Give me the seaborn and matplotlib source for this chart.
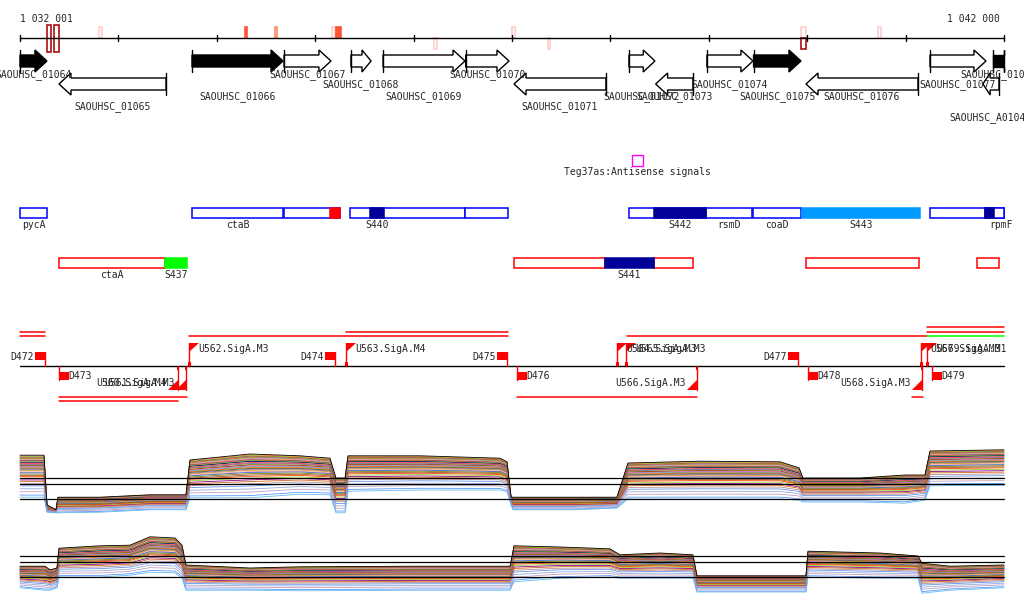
import numpy as np
import pandas as pd
import matplotlib
matplotlib.use("Agg")
import matplotlib.pyplot as plt
from matplotlib.patches import Polygon, Rectangle
import seaborn as sns

# region shown (bp)
view_start = 1032001
view_end = 1042000

# genes
gene_names = ["SAOUHSC_01064", "SAOUHSC_01065", "SAOUHSC_01066", "SAOUHSC_01067",
              "SAOUHSC_01068", "SAOUHSC_01069", "SAOUHSC_01070", "SAOUHSC_01071",
              "SAOUHSC_01072", "SAOUHSC_01073", "SAOUHSC_01074", "SAOUHSC_01075",
              "SAOUHSC_01076", "SAOUHSC_01077", "SAOUHSC_A01041", "SAOUHSC_01078"]
gene_start = [1032001, 1032397, 1033749, 1034684, 1035364, 1035690, 1036530, 1037021,
              1038189, 1038460, 1038981, 1039455, 1039988, 1041248, 1041786, 1041888]
gene_end = [1032275, 1033485, 1034674, 1035161, 1035568, 1036523, 1036970, 1037955,
            1038453, 1038839, 1039449, 1039937, 1041126, 1041817, 1041949, 1042300]
gene_strand = ["+", "-", "+", "+", "+", "+", "+", "-", "+", "-", "+", "+", "-", "+", "-", "+"]
gene_essential = [1, 0, 1, 0, 0, 0, 0, 0, 0, 0, 0, 1, 0, 0, 0, 1]

# small marks on the ruler
mark_start = [1032275, 1032346, 1032804, 1034287, 1034592, 1035171, 1035212, 1036208,
              1037001, 1037366, 1039937, 1039937, 1040720]
mark_end = [1032316, 1032397, 1032834, 1034308, 1034613, 1035202, 1035263, 1036238,
            1037031, 1037387, 1039988, 1039988, 1040750]
mark_side = ["both", "both", "up", "up", "up", "up", "up", "down", "up", "down", "up", "down", "up"]
mark_level = [3, 3, 0, 2, 1, 0, 2, 0, 0, 0, 0, 3, 0]

# annotation features, forward strand
fwd_feat_name = ["pycA", "ctaB", "", "", "", "S440", "", "", "S442", "rsmD", "coaD",
                 "S443", "", "rpmF", ""]
fwd_feat_start = [1032001, 1033749, 1034684, 1035151, 1035354, 1035557, 1036523, 1038189,
                  1038443, 1038971, 1039449, 1039947, 1041248, 1041807, 1041807]
fwd_feat_end = [1032275, 1034674, 1035253, 1035253, 1036523, 1035700, 1036960, 1038971,
                1038971, 1039439, 1039937, 1041146, 1042000, 1042122, 1041898]
fwd_feat_type = ["gene", "gene", "gene", "term", "gene", "srna", "gene", "gene",
                 "srna", "gene", "gene", "sig", "gene", "gene", "srna"]

# annotation features, reverse strand
rev_feat_name = ["ctaA", "S437", "", "S441", "", "", ""]
rev_feat_start = [1032397, 1033474, 1037021, 1037945, 1038443, 1039988, 1041725]
rev_feat_end = [1033474, 1033698, 1037945, 1038443, 1038839, 1041136, 1041949]
rev_feat_type = ["gene", "utr", "gene", "srna", "gene", "gene", "gene"]

antisense_name = "Teg37as:Antisense signals"
antisense_start = 1038220
antisense_end = 1038331

# transcription units
tu_start = [1032001, 1032001, 1033718, 1035314, 1038169, 1041217, 1041217, 1041217,
            1032397, 1032397, 1037051, 1041065]
tu_end = [1032255, 1032255, 1036960, 1036960, 1041217, 1042000, 1042000, 1042000,
          1033698, 1033607, 1038880, 1041176]
tu_row = [1, 2, 1, 2, 1, 1, 2, 3, -1, -2, -1, -1]
tu_kind = ["r", "r", "r", "r", "r", "g", "r", "r", "r", "r", "r", "r"]

# terminators (D) and SigA promoters (U)
term_names = ["D472", "D473", "D474", "D475", "D476", "D477", "D478", "D479"]
term_pos = [1032255, 1032397, 1035202, 1036950, 1037051, 1039907, 1040008, 1041268]
term_strand = ["+", "-", "+", "+", "-", "+", "-", "-"]

prom_names = ["U562.SigA.M3", "U563.SigA.M4", "U564.SigA.M3", "U565.SigA.M3",
              "U567.SigA.M3", "U569.SigA.M1", "U560.SigA.M4", "U561.SigA.M3",
              "U566.SigA.M3", "U568.SigA.M3"]
prom_pos = [1033718, 1035314, 1038067, 1038159, 1041156, 1041217, 1033607, 1033688,
            1038880, 1041166]
prom_strand = ["+", "+", "+", "+", "+", "+", "-", "-", "-", "-"]

# expression envelopes: forward strand
fwd_pos = [1032001, 1032245, 1032275, 1032367, 1032387, 1032814, 1033322, 1033688,
           1033728, 1034338, 1034846, 1035151, 1035212, 1035304, 1035334, 1036066,
           1036879, 1036950, 1036991, 1037011, 1037641, 1038067, 1038179, 1038911,
           1039724, 1039917, 1039957, 1040537, 1040994, 1041197, 1041248, 1042000]
fwd_top = [10.8, 10.8, 2.5, 1.7, 3.8, 3.8, 4.2, 4.2, 10.0, 11.0, 10.7, 10.3, 7.0, 7.0,
           10.7, 10.7, 10.3, 9.7, 3.8, 3.8, 3.8, 3.8, 9.5, 9.8, 9.7, 8.7, 7.0, 7.0, 7.5,
           7.5, 11.5, 11.7]
fwd_low = [3.8, 3.8, 1.3, 1.2, 1.2, 1.3, 1.7, 1.7, 3.7, 3.7, 4.3, 4.2, 1.2, 1.2, 4.8,
           5.0, 5.0, 4.7, 2.5, 1.7, 1.7, 2.0, 3.5, 3.5, 3.5, 3.3, 3.0, 3.0, 2.8, 3.3,
           5.7, 5.8]

# expression envelopes: reverse strand
rev_pos = [1032001, 1032255, 1032306, 1032377, 1032397, 1032814, 1033118, 1033322,
           1033576, 1033647, 1033688, 1034338, 1034846, 1036066, 1036981, 1037021,
           1037488, 1037996, 1038097, 1038504, 1038839, 1038880, 1039988, 1040008,
           1040740, 1041126, 1041166, 1041451, 1042000]
rev_top = [5.3, 5.3, 4.7, 5.0, 8.3, 8.7, 8.8, 10.2, 10.0, 8.8, 5.5, 5.0, 5.2, 5.3, 5.3,
           8.7, 8.5, 8.2, 7.2, 7.5, 7.2, 3.7, 3.7, 7.8, 7.5, 7.0, 5.8, 5.3, 5.5]
rev_low = [1.7, 1.3, 1.3, 1.7, 3.5, 3.5, 3.8, 4.3, 4.2, 3.3, 1.3, 1.3, 1.2, 1.3, 1.3,
           2.7, 3.3, 3.5, 3.3, 3.3, 3.3, 1.0, 1.0, 3.5, 3.3, 3.3, 0.8, 1.3, 1.7]

# cut-off lines drawn across both panels
cutoffs = [3.5, 6.0, 7.0]

# relative position of each sample inside the envelope (most samples near the top)
sample_frac = [0.98, 0.96, 0.95, 0.93, 0.92, 0.9, 0.89, 0.87, 0.86, 0.84, 0.83, 0.81,
               0.8, 0.78, 0.76, 0.75, 0.73, 0.71, 0.69, 0.67, 0.65, 0.63, 0.6, 0.58,
               0.55, 0.52, 0.49, 0.45, 0.41, 0.37, 0.32, 0.27, 0.2, 0.13, 0.05, 0.0, 1.0]
sample_colors = ["#ff6633", "#66cc00", "#996633", "#cc3399", "#999933", "#9999cc",
                 "#ff9966", "#663366", "#cc6633", "#33cc33", "#000066", "#cc9966",
                 "#ff3366", "#666699", "#99cc33", "#993300", "#cc66cc", "#669999",
                 "#ff6600", "#336633", "#996699", "#cc9933", "#ff9999", "#3366cc",
                 "#808000", "#a0522d", "#ff4500", "#9acd32", "#8b008b", "#d2691e",
                 "#bc8f8f", "#6495ed", "#99aadd", "#c0a0c0", "#5599ff", "#66bbee",
                 "#000000"]

# ---------------------------------------------------------------------------
sns.set_theme(style="white")
plt.rcParams["font.family"] = ["DejaVu Sans Mono"]
FS = 7

bpx = 9999 / 984  # bp per pixel
x0 = view_start - 20 * bpx
x1 = view_start + 1004 * bpx

fig = plt.figure(figsize=(10.24, 6.11), dpi=100)
ax = fig.add_axes([0, 0, 1, 1])
ax.set_xlim(x0, x1)
ax.set_ylim(611, 0)
ax.axis("off")

# ruler
ax.plot([view_start, view_end], [38, 38], color="black", lw=1)
for t in range(1032000, 1042001, 1000):
    ax.plot([t, t], [35, 41], color="black", lw=1)
ax.text(view_start, 19, "1 032 001", fontsize=FS, ha="left", va="center")
ax.text(view_end - 4 * bpx, 19, "1 042 000", fontsize=FS, ha="right", va="center")

level_cols = ["#ffcccc", "#ff8866", "#ff5533", "#aa1111"]
side_y = {"up": (27, 38), "down": (38, 49), "both": (25, 52)}
for s, e, side, lv in zip(mark_start, mark_end, mark_side, mark_level):
    ya, yb = side_y[side]
    filled = lv == 2
    ax.add_patch(Rectangle((s, ya), e - s, yb - ya, facecolor=level_cols[lv] if filled else "none",
                           edgecolor=level_cols[lv], lw=1.2))

# genes
label_rows = [75, 107, 97, 75, 85, 97, 75, 107, 97, 97, 85, 97, 97, 85, 118, 75]
for name, s, e, st, ess, ly in zip(gene_names, gene_start, gene_end, gene_strand,
                                   gene_essential, label_rows):
    yc = 61 if st == "+" else 84
    body, headw = 6, 11
    de = min(e, view_end)
    h = min(12 * bpx, (de - s) * 0.45) if e <= view_end else 0
    if st == "+":
        pts = [(s, yc - body), (de - h, yc - body), (de - h, yc - headw), (de, yc),
               (de - h, yc + headw), (de - h, yc + body), (s, yc + body)]
        bar = s
    else:
        pts = [(e, yc - body), (s + h, yc - body), (s + h, yc - headw), (s, yc),
               (s + h, yc + headw), (s + h, yc + body), (e, yc + body)]
        bar = e
    ax.add_patch(Polygon(pts, closed=True, facecolor="black" if ess else "white",
                         edgecolor="black", lw=1, zorder=3))
    ax.plot([bar, bar], [yc - headw, yc + headw], color="black", lw=1, zorder=3)
    ax.text((s + de) / 2, ly, name, fontsize=FS, ha="center", va="center", zorder=4)

# antisense signal
ax.add_patch(Rectangle((antisense_start, 155), antisense_end - antisense_start, 11,
                       facecolor="none", edgecolor="#ff00ff", lw=1))
ax.text((antisense_start + antisense_end) / 2, 172, antisense_name, fontsize=FS,
        ha="center", va="center")

# feature tracks
styles = {"gene": ("none", None), "term": ("#ff0000", "#ff0000"), "srna": ("#000099", "#000099"),
          "sig": ("#0099ff", "#0099ff"), "utr": ("#00ff00", "#00ff00")}
for names, starts, ends, types, ytop, edge in [
        (fwd_feat_name, fwd_feat_start, fwd_feat_end, fwd_feat_type, 208, "#0000ff"),
        (rev_feat_name, rev_feat_start, rev_feat_end, rev_feat_type, 258, "#ff0000")]:
    for n, s, e, t in zip(names, starts, ends, types):
        fc, ec = styles[t]
        de = min(e, view_end)
        z = 2 if t == "gene" else 3
        ax.add_patch(Rectangle((s, ytop), de - s, 10, facecolor=fc if fc != "none" else "white",
                               edgecolor=ec or edge, lw=1.1, zorder=z))
        if n:
            ax.text((s + e) / 2, ytop + 17, n, fontsize=FS, ha="center", va="center")

# transcription units and baseline
base = 366
ax.plot([view_start, view_end], [base, base], color="black", lw=1)
row_y = {1: 336, 2: 331.5, 3: 327, -1: 397, -2: 401}
for s, e, r, k in zip(tu_start, tu_end, tu_row, tu_kind):
    ax.plot([s, e], [row_y[r], row_y[r]], color="#00ff00" if k == "g" else "#ff0000", lw=1.1)

sq = 10 * bpx
for n, p, st in zip(term_names, term_pos, term_strand):
    if st == "+":
        ax.add_patch(Rectangle((p - sq, 352), sq, 8, color="#ff0000", lw=0))
        ax.plot([p, p], [352, base], color="#ff0000", lw=1)
        ax.text(p - sq - bpx, 357, n, fontsize=FS, ha="right", va="center")
    else:
        ax.add_patch(Rectangle((p, 372), sq, 8, color="#ff0000", lw=0))
        ax.plot([p, p], [base, 380], color="#ff0000", lw=1)
        ax.text(p + 9 * bpx, 376, n, fontsize=FS, ha="left", va="center")

for n, p, st in zip(prom_names, prom_pos, prom_strand):
    if st == "+":
        ax.plot([p, p], [343, base], color="#ff0000", lw=1)
        ax.add_patch(Polygon([(p, 343), (p + sq, 343), (p, 352)], color="#ff0000", lw=0))
        ax.add_patch(Rectangle((p - bpx, 362), 2 * bpx, 4, facecolor="white",
                               edgecolor="#ff0000", lw=0.8))
        ax.text(p + 9 * bpx, 349.5, n, fontsize=FS, ha="left", va="center")
    else:
        ax.plot([p, p], [base, 390], color="#ff0000", lw=1)
        ax.add_patch(Polygon([(p, 390), (p - sq, 390), (p, 380)], color="#ff0000", lw=0))
        ax.add_patch(Rectangle((p - bpx, 366), 2 * bpx, 4, color="#ff0000", lw=0))
        ax.text(p - 11 * bpx, 383.5, n, fontsize=FS, ha="right", va="center")

# expression panels
def panel(rect, ymax, pos, top, low):
    pax = fig.add_axes(rect)
    rows = []
    for i, f in enumerate(sample_frac):
        for x, t, b in zip(pos, top, low):
            rows.append({"sample": f"s{i:02d}", "pos": x, "value": b + f * (t - b)})
    df = pd.DataFrame(rows)
    sns.lineplot(data=df, x="pos", y="value", hue="sample", palette=sample_colors,
                 estimator=None, sort=False, legend=False, lw=0.6, ax=pax)
    for c in cutoffs:
        pax.plot([view_start, view_end], [c, c], color="black", lw=0.9)
    pax.set_xlim(x0, x1)
    pax.set_ylim(0, ymax)
    pax.axis("off")
    return pax

panel([0, (611 - 520) / 611, 1, 80 / 611], 80 / 6, fwd_pos, fwd_top, fwd_low)
panel([0, (611 - 598) / 611, 1, 70 / 611], 70 / 6, rev_pos, rev_top, rev_low)

fig.savefig("out.png", dpi=100)
